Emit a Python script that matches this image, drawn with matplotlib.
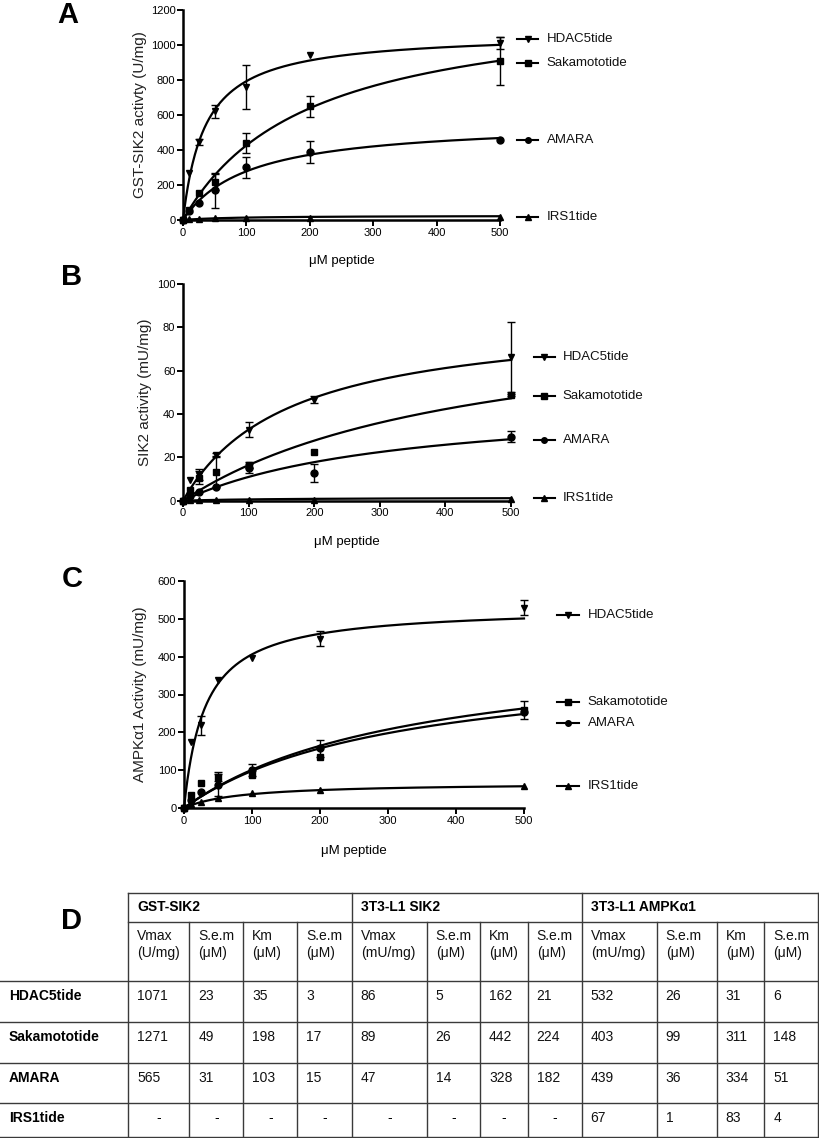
import numpy as np
import matplotlib
matplotlib.use('Agg')
from matplotlib import pyplot as plt

plt.rcParams['font.family'] = ['Liberation Sans', 'DejaVu Sans']

# peptide concentrations (uM)
conc = [0, 10, 25, 50, 100, 200, 500]
peptides = ['HDAC5tide', 'Sakamototide', 'AMARA', 'IRS1tide']
markers = ['v', 's', 'o', '^']

# panel A - GST-SIK2 (U/mg)
a_vals = {
    'HDAC5tide':    [0, 269, 446, 620, 760, 943, 1011],
    'Sakamototide': [0, 57, 154, 217, 440, 651, 909],
    'AMARA':        [0, 50, 97, 171, 300, 389, 457],
    'IRS1tide':     [0, 3, 6, 9, 11, 13, 17],
}
a_err = {
    'HDAC5tide':    [0, 0, 15, 37, 125, 0, 35],
    'Sakamototide': [0, 0, 0, 45, 55, 60, 138],
    'AMARA':        [0, 0, 0, 100, 60, 65, 0],
    'IRS1tide':     [0, 0, 0, 0, 0, 0, 0],
}
# Vmax, Km of fitted curves (IRS1tide)
a_fit = {'HDAC5tide': (1071, 35), 'Sakamototide': (1271, 198),
         'AMARA': (565, 103), 'IRS1tide': (25, 80)}

# panel B - SIK2 (mU/mg)
b_vals = {
    'HDAC5tide':    [0, 9.6, 12, 21, 32.7, 46.6, 66.3],
    'Sakamototide': [0, 5, 10.5, 13.4, 16.5, 22.7, 48.9],
    'AMARA':        [0, 2, 4, 6.4, 15, 12.7, 29.6],
    'IRS1tide':     [0, 0.3, 0.3, 0.3, 0.4, 0.5, 1.0],
}
b_err = {
    'HDAC5tide':    [0, 0, 2.5, 1, 3.5, 1.5, 16],
    'Sakamototide': [0, 0, 3, 7, 1.5, 0, 0.5],
    'AMARA':        [0, 0, 0, 0, 2, 4.3, 2.5],
    'IRS1tide':     [0, 0, 0, 0, 0, 0, 0],
}
b_fit = {'HDAC5tide': (86, 162), 'Sakamototide': (89, 442),
         'AMARA': (47, 328), 'IRS1tide': (1.5, 150)}

# panel C - AMPKa1 (mU/mg)
c_vals = {
    'HDAC5tide':    [0, 175, 219, 338, 396, 448, 529],
    'Sakamototide': [0, 34, 65, 83, 87, 134, 259],
    'AMARA':        [0, 20, 43, 61, 100, 158, 255],
    'IRS1tide':     [0, 10, 17, 26, 40, 48, 59],
}
c_err = {
    'HDAC5tide':    [0, 0, 25, 0, 0, 20, 20],
    'Sakamototide': [0, 0, 0, 12, 0, 0, 25],
    'AMARA':        [0, 0, 0, 30, 15, 22, 0],
    'IRS1tide':     [0, 0, 0, 0, 0, 0, 0],
}
c_fit = {'HDAC5tide': (532, 31), 'Sakamototide': (403, 311),
         'AMARA': (439, 334), 'IRS1tide': (67, 83)}

# table D
groups = ['GST-SIK2', '3T3-L1 SIK2', '3T3-L1 AMPK\u03b11']
sub_head = [('Vmax', '(U/mg)'), ('S.e.m', '(\u03bcM)'), ('Km', '(\u03bcM)'), ('S.e.m', '(\u03bcM)'),
            ('Vmax', '(mU/mg)'), ('S.e.m', '(\u03bcM)'), ('Km', '(\u03bcM)'), ('S.e.m', '(\u03bcM)'),
            ('Vmax', '(mU/mg)'), ('S.e.m', '(\u03bcM)'), ('Km', '(\u03bcM)'), ('S.e.m', '(\u03bcM)')]
table_rows = {
    'HDAC5tide':    ['1071', '23', '35', '3', '86', '5', '162', '21', '532', '26', '31', '6'],
    'Sakamototide': ['1271', '49', '198', '17', '89', '26', '442', '224', '403', '99', '311', '148'],
    'AMARA':        ['565', '31', '103', '15', '47', '14', '328', '182', '439', '36', '334', '51'],
    'IRS1tide':     ['-', '-', '-', '-', '-', '-', '-', '-', '67', '1', '83', '4'],
}

W, H = 820, 1138
fig = plt.figure(figsize=(W / 100, H / 100), dpi=100)


def px_axes(left, top, right, bottom):
    return fig.add_axes([left / W, 1 - bottom / H, (right - left) / W, (bottom - top) / H])


def panel(ax, vals, errs, fits, ymax, ystep, ylabel, ylab_x, leg_y, leg_x):
    xs = np.linspace(0, 500, 400)
    for pep, mk in zip(peptides, markers):
        vm, km = fits[pep]
        ax.plot(xs, vm * xs / (km + xs), color='black', lw=1.6, clip_on=False, zorder=2)
        ax.plot(conc, vals[pep], linestyle='none', marker=mk, ms=5, color='black',
                clip_on=False, zorder=3)
        idx = [i for i, e in enumerate(errs[pep]) if e > 0]
        if idx:
            ax.errorbar([conc[i] for i in idx], [vals[pep][i] for i in idx],
                        yerr=[errs[pep][i] for i in idx], fmt='none', ecolor='black',
                        elinewidth=1, capsize=3, capthick=1, clip_on=False, zorder=3)
        # legend entry next to curve end
        y = leg_y[pep]
        ax.plot([leg_x[0], leg_x[1]], [y, y], color='black', lw=1.5, clip_on=False)
        ax.plot([(leg_x[0] + leg_x[1]) / 2], [y], marker=mk, ms=4, color='black', clip_on=False)
        ax.text(leg_x[2], y, pep, fontsize=9.5, va='center', ha='left', color='#111')
    ax.set_xlim(0, 500)
    ax.set_ylim(0, ymax)
    ax.set_xticks(range(0, 501, 100))
    ax.set_yticks(range(0, ymax + 1, ystep))
    for s in ['top', 'right']:
        ax.spines[s].set_visible(False)
    for s in ['left', 'bottom']:
        ax.spines[s].set_linewidth(1.8)
    ax.tick_params(direction='out', length=4, width=1.4, labelsize=8, pad=1.5, colors='black')
    ax.set_xlabel('\u03bcM peptide', fontsize=9.5)
    ax.xaxis.set_label_coords(0.5, -0.165)
    ax.set_ylabel(ylabel, fontsize=11, color='#222')
    ax.yaxis.set_label_coords(ylab_x, 0.5)


axA = px_axes(183, 10, 500, 220)
panel(axA, a_vals, a_err, a_fit, 1200, 200, 'GST-SIK2 activty (U/mg)', -0.114,
      {'HDAC5tide': 1034, 'Sakamototide': 897, 'AMARA': 457, 'IRS1tide': 17},
      (527, 560, 574))

axB = px_axes(183, 284, 511, 500.7)
panel(axB, b_vals, b_err, b_fit, 100, 20, 'SIK2 activity (mU/mg)', -0.095,
      {'HDAC5tide': 66.5, 'Sakamototide': 48.5, 'AMARA': 28, 'IRS1tide': 1.2},
      (535, 567, 579))

axC = px_axes(184, 581, 524, 808)
panel(axC, c_vals, c_err, c_fit, 600, 100, 'AMPK\u03b11 Activity (mU/mg)', -0.109,
      {'HDAC5tide': 510, 'Sakamototide': 280, 'AMARA': 225, 'IRS1tide': 58},
      (548, 581, 594))

# overlay in pixel coordinates for letters and table
ov = fig.add_axes([0, 0, 1, 1])
ov.set_xlim(0, W)
ov.set_ylim(H, 0)
ov.axis('off')

for letter, (lx, ly) in zip('ABCD', [(68, 15), (72, 277), (72, 579), (72, 921)]):
    ov.text(lx, ly, letter, fontsize=21, fontweight='bold', ha='center', va='center')

col_x = [128, 189.3, 243.3, 297.3, 351.7, 426.7, 480, 527.7, 581.7, 656.7, 716.7, 764.3, 818.3]
row_y = [893.3, 922.3, 981, 1021.7, 1062.7, 1103.3, 1136.7]
lc = '#3a3a3a'
lw = 1.0
ov.plot([col_x[0], col_x[-1]], [row_y[0], row_y[0]], color=lc, lw=lw)
ov.plot([col_x[0], col_x[-1]], [row_y[1], row_y[1]], color=lc, lw=lw)
for y in row_y[2:]:
    ov.plot([0, col_x[-1]], [y, y], color=lc, lw=lw)
for i, x in enumerate(col_x):
    top = row_y[0] if i % 4 == 0 else row_y[1]
    ov.plot([x, x], [top, row_y[-1]], color=lc, lw=lw)

pad = 9
for g, name in enumerate(groups):
    ov.text(col_x[g * 4] + pad, 907, name, fontsize=10, fontweight='bold', va='center')
for j, (l1, l2) in enumerate(sub_head):
    ov.text(col_x[j] + pad, 936, l1, fontsize=10, va='center', color='#111')
    ov.text(col_x[j] + pad, 953, l2, fontsize=10, va='center', color='#111')
for r, pep in enumerate(peptides):
    ty = row_y[2 + r] + 15
    ov.text(9, ty, pep, fontsize=10, fontweight='bold', va='center')
    for j, v in enumerate(table_rows[pep]):
        if v == '-':
            ov.text((col_x[j] + col_x[j + 1]) / 2, ty, v, fontsize=10, va='center', ha='center')
        else:
            ov.text(col_x[j] + pad, ty, v, fontsize=10, va='center', color='#111')

fig.savefig('out.png', dpi=100)
